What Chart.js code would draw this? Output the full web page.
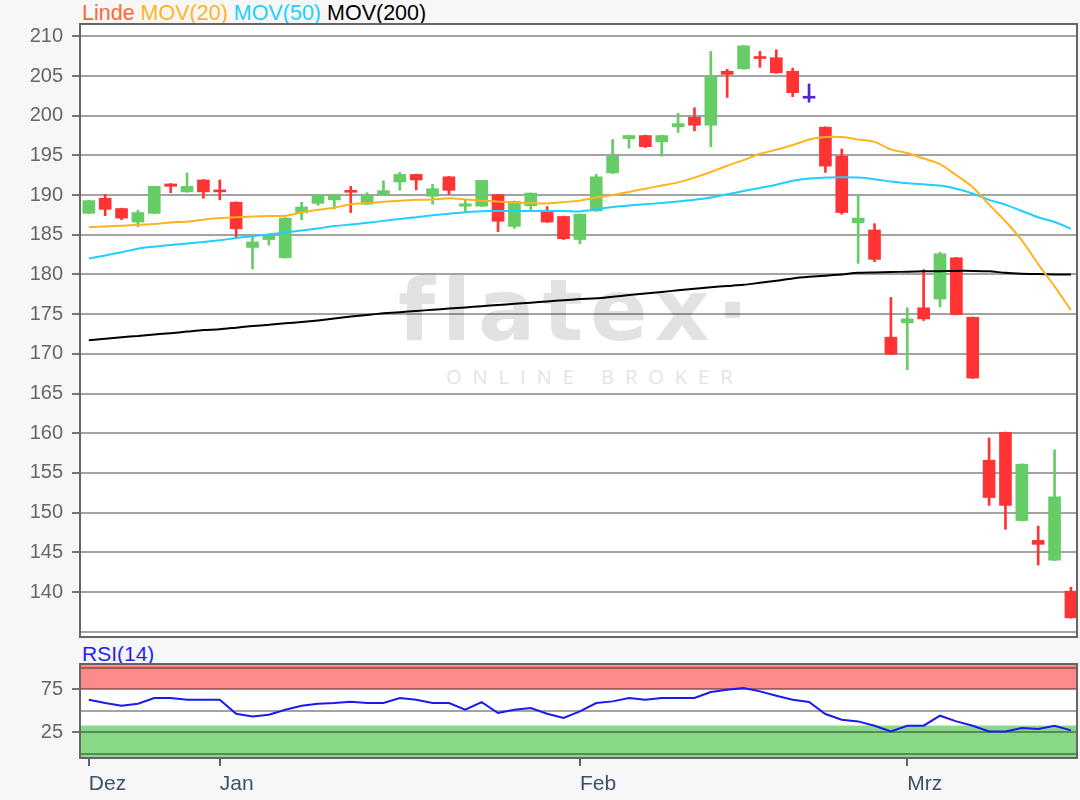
<!DOCTYPE html>
<html lang="de">
<head>
<meta charset="utf-8">
<title>Linde – Kursverlauf</title>
<script src="https://cdn.jsdelivr.net/npm/chart.js@4.4.1/dist/chart.umd.min.js"></script>
<style>
  html, body { margin:0; padding:0; background:#f7f7f7; }
  #wrap { position:relative; width:1080px; height:800px; overflow:hidden; font-family:'Liberation Sans', Arial, sans-serif; }
  .plotbg { position:absolute; background:#fff; }
  canvas { position:absolute; left:0; }
  #head { position:absolute; left:82px; top:3px; font-size:21.5px; line-height:21px; white-space:nowrap; }
  #rsiLbl { position:absolute; left:82px; top:643px; font-size:21px; line-height:21px; color:#1f1fff; }
  #wm1 { position:absolute; left:398px; top:268px; font-family:'DejaVu Sans', sans-serif; font-weight:700; font-size:85px; line-height:85px; color:#e2e2e2; letter-spacing:7px; }
  #wm2 { position:absolute; left:446px; top:367px; font-family:'Open Sans', sans-serif; font-size:20px; line-height:20px; color:#e4e4e4; letter-spacing:11px; }
</style>
</head>
<body>
<div id="wrap">
  <div class="plotbg" style="left:79px;top:24px;width:998px;height:613px"></div>
  <div class="plotbg" style="left:79px;top:664px;width:998px;height:94px"></div>
  <div id="wm1">flatex·</div>
  <div id="wm2">ONLINE BROKER</div>
  <div id="head"><span style="color:#ff6633">Linde</span> <span style="color:#ffb41f">MOV(20)</span> <span style="color:#1fcfff">MOV(50)</span> <span style="color:#000">MOV(200)</span></div>
  <div id="rsiLbl">RSI(14)</div>
  <canvas id="priceChart" width="1080" height="640" style="top:0"></canvas>
  <canvas id="rsiChart" width="1080" height="160" style="top:640px"></canvas>
</div>
<script>
// ---- data: daily candles 16.12.2019 – 16.03.2020 ----
const openV  = [187.7,189.6,188.3,186.6,187.7,191.4,190.4,191.9,190.6,189.1, 183.4,184.4,182.1,187.75,188.96,189.4,190.55,188.85,190.05,191.65, 192.6,189.85,192.3,188.6,188.6,190.05,186.05,188.65,187.9,187.3, 184.4,188.0,192.8,197.1,197.5,196.7,198.6,199.8,198.8,205.6, 205.9,207.4,207.3,205.6,202.2,198.55,194.9,186.5,185.6,172.1, 173.9,175.8,176.9,182.1,174.6,156.6,160.1,149.0,146.5,144.0, 140.1];
const highV  = [189.35,190.1,188.35,188.1,191.1,191.45,192.8,191.95,191.9,189.15, 184.7,184.85,187.15,189.1,190.05,190.1,191.1,190.3,191.8,192.85, 192.65,191.35,192.35,189.35,191.85,190.1,189.25,190.25,188.55,187.35, 187.6,192.6,197.0,197.55,197.55,197.55,200.3,201.0,208.1,205.85, 208.85,208.1,208.3,206.0,204.0,198.6,195.8,190.0,186.4,177.1, 175.8,180.6,182.8,182.15,174.65,159.4,160.15,156.15,148.3,157.9, 140.6];
const lowV   = [187.65,187.4,186.9,186.0,187.65,190.3,190.35,189.6,189.4,184.6, 180.7,183.7,182.05,186.9,188.7,188.25,187.8,188.8,190.0,190.6, 190.65,188.85,190.1,187.8,188.55,185.4,185.8,188.1,186.55,184.4, 183.85,187.95,192.7,195.9,196.0,194.9,197.9,198.1,196.1,202.3, 205.85,206.1,205.35,202.4,201.7,192.85,187.6,181.4,181.6,169.9, 168.0,174.2,175.9,174.9,166.9,150.9,147.9,148.95,143.4,143.95, 136.7];
const closeV = [189.3,188.2,187.1,187.8,191.1,191.1,191.1,190.4,190.4,185.75, 184.1,184.8,187.1,188.5,190.0,190.05,190.35,189.9,190.55,192.6, 191.9,190.8,190.6,188.9,191.85,186.7,189.2,190.25,186.6,184.5, 187.6,192.3,194.9,197.5,196.1,197.5,199.0,198.8,204.9,205.2, 208.8,207.2,205.4,202.9,202.2,193.65,187.8,187.1,181.9,169.95, 174.4,174.4,182.6,174.95,166.95,151.9,150.9,156.1,146.0,152.0, 136.75];

const mov20  = [185.95,186.05,186.15,186.25,186.35,186.55,186.65,186.9,187.1,187.2, 187.3,187.35,187.4,187.8,188.15,188.4,188.85,189.0,189.15,189.3, 189.4,189.45,189.6,189.45,189.3,189.2,189.05,189.0,188.95,189.1, 189.3,189.7,190.0,190.4,190.8,191.2,191.6,192.2,192.9,193.7, 194.4,195.2,195.7,196.3,197.0,197.3,197.3,197.0,196.7,195.75, 195.3,194.6,193.9,192.5,191.0,188.8,186.7,184.3,181.3,178.5, 175.5];
const mov50  = [182.0,182.4,182.8,183.25,183.5,183.7,183.9,184.1,184.3,184.6, 184.8,185.05,185.3,185.55,185.8,186.1,186.3,186.5,186.75,187.0, 187.2,187.45,187.65,187.85,187.95,188.0,188.0,188.0,188.0,188.0, 187.95,188.2,188.5,188.7,188.85,189.0,189.2,189.4,189.7,190.1, 190.5,190.9,191.3,191.8,192.1,192.2,192.25,192.2,192.0,191.7, 191.5,191.35,191.2,190.8,190.2,189.4,188.8,188.0,187.2,186.6, 185.75];
const mov200 = [171.7,171.9,172.1,172.25,172.45,172.6,172.8,173.0,173.1,173.3, 173.5,173.65,173.85,174.0,174.2,174.45,174.7,174.9,175.1,175.25, 175.4,175.55,175.7,175.85,176.0,176.15,176.3,176.45,176.6,176.75, 176.9,177.0,177.2,177.4,177.6,177.8,178.0,178.2,178.4,178.55, 178.7,178.95,179.2,179.5,179.7,179.85,180.0,180.2,180.25,180.3, 180.35,180.4,180.4,180.45,180.45,180.4,180.2,180.1,180.05,180.0, 180.0];
const rsi14  = [62.9,59.1,56.0,58.3,64.9,64.9,62.9,62.9,62.9,46.7, 43.6,45.5,51.3,56.0,58.3,59.1,60.6,59.1,59.1,64.9, 62.9,59.1,59.1,51.3,60.2,47.5,51.3,53.2,46.7,41.7, 49.4,59.1,61.0,64.9,62.9,64.9,64.9,64.9,71.8,74.5, 76.5,72.6,67.6,62.9,60.2,46.3,39.7,37.8,32.8,26.2, 32.8,32.8,44.4,37.8,32.8,26.2,26.2,30.1,29.0,32.8, 27.4];

const priceTicks = [135,140,145,150,155,160,165,170,175,180,185,190,195,200,205,210];
const rsiTicks   = [0,25,50,75,100];
const rsiLabels  = [25,75];
const monthIdx   = [0,8,30,50];
const monthLbl   = ['Dez','Jan','Feb','Mrz'];

const UP = '#66cc66', DOWN = '#ff3333', FLAT = '#5522cc';
const candleColor = openV.map((o, i) => closeV[i] > o ? UP : closeV[i] < o ? DOWN : FLAT);
const pts = arr => arr.map((v, i) => ({ x: i, y: v }));

const X_MIN = -0.6, X_MAX = 60.37;
const FONT = "'Liberation Sans', Arial, sans-serif";

// fixed axis width, no extra label padding -> both panels share the same plot box
const fitLeft = s => { s.width = 79; s.paddingTop = 0; s.paddingBottom = 0; };

// frame around the plot area
const framePlugin = {
  id: 'frame',
  afterDraw(chart) {
    const { ctx, chartArea: a } = chart;
    ctx.save();
    ctx.strokeStyle = '#666';
    ctx.lineWidth = 2;
    ctx.strokeRect(a.left + 1, a.top, a.right - a.left - 1, a.bottom - a.top);
    ctx.restore();
  }
};

// RSI zones (under the grid)
const bandPlugin = {
  id: 'bands',
  beforeDraw(chart) {
    const { ctx, chartArea: a, scales: { y } } = chart;
    ctx.save();
    ctx.fillStyle = '#ff8a8a';
    const r = y.getPixelForValue(75);
    ctx.fillRect(a.left, a.top, a.right - a.left, r - a.top);
    ctx.fillStyle = '#88d888';
    const g = y.getPixelForValue(33);
    ctx.fillRect(a.left, g, a.right - a.left, a.bottom - g);
    ctx.restore();
  }
};

const gridCol = 'rgba(0,0,0,0.36)';

new Chart(document.getElementById('priceChart'), {
  type: 'bar',
  data: {
    datasets: [
      { type:'line', data: pts(mov20), borderColor:'#ffb41f', borderWidth:2, pointRadius:0, tension:0.25, order:0 },
      { type:'line', data: pts(mov50), borderColor:'#1fcfff', borderWidth:2, pointRadius:0, tension:0.25, order:0 },
      { type:'line', data: pts(mov200), borderColor:'#000', borderWidth:2, pointRadius:0, tension:0.25, order:0 },
      { data: openV.map((o, i) => ({ x: i, y: [o, closeV[i]] })), backgroundColor: candleColor, barThickness: 12, minBarLength: 2, grouped: false, order: 1 },
      { data: lowV.map((l, i) => ({ x: i, y: [l, highV[i]] })), backgroundColor: candleColor, barThickness: 2, grouped: false, order: 2 }
    ]
  },
  options: {
    responsive: false,
    animation: false,
    layout: { padding: { top: 24, right: 3, bottom: 3, left: 0 } },
    plugins: { legend: { display: false }, tooltip: { enabled: false } },
    scales: {
      x: { type: 'linear', min: X_MIN, max: X_MAX, offset: false, display: false },
      y: {
        min: 134.33, max: 211.55,
        afterBuildTicks: s => { s.ticks = priceTicks.map(v => ({ value: v })); },
        afterFit: fitLeft,
        ticks: { autoSkip: false, padding: 9, color: '#666', font: { family: FONT, size: 20 }, callback: v => v === 135 ? '' : v },
        grid: { color: gridCol, lineWidth: 2, tickLength: 7, tickColor: ctx => ctx.tick && ctx.tick.value === 135 ? 'rgba(0,0,0,0)' : '#777' },
        border: { display: false }
      }
    }
  },
  plugins: [framePlugin]
});

new Chart(document.getElementById('rsiChart'), {
  type: 'line',
  data: {
    datasets: [
      { data: pts(rsi14), borderColor: '#1a1aee', borderWidth: 2, pointRadius: 0, tension: 0 }
    ]
  },
  options: {
    responsive: false,
    animation: false,
    layout: { padding: { top: 24, right: 3, bottom: 0, left: 0 } },
    plugins: { legend: { display: false }, tooltip: { enabled: false } },
    scales: {
      x: {
        type: 'linear', min: X_MIN, max: X_MAX, offset: false,
        afterBuildTicks: s => { s.ticks = monthIdx.map(v => ({ value: v })); },
        afterFit: s => { s.height = 42; },
        ticks: { autoSkip: false, maxRotation: 0, align: 'start', padding: 6, color: '#3d5168', font: { family: FONT, size: 21 },
                 callback: v => monthLbl[monthIdx.indexOf(v)] },
        grid: { drawOnChartArea: false, tickLength: 8, tickColor: '#556677', lineWidth: 2 },
        border: { display: false }
      },
      y: {
        min: -4.6, max: 104.3,
        afterBuildTicks: s => { s.ticks = rsiTicks.map(v => ({ value: v })); },
        afterFit: fitLeft,
        ticks: { autoSkip: false, padding: 9, color: '#666', font: { family: FONT, size: 20 }, callback: v => rsiLabels.includes(v) ? v : '' },
        grid: { color: gridCol, lineWidth: 2, tickLength: 7, tickColor: ctx => rsiLabels.includes(ctx.tick && ctx.tick.value) ? '#777' : 'rgba(0,0,0,0)' },
        border: { display: false }
      }
    }
  },
  plugins: [bandPlugin, framePlugin]
});
</script>
</body>
</html>
